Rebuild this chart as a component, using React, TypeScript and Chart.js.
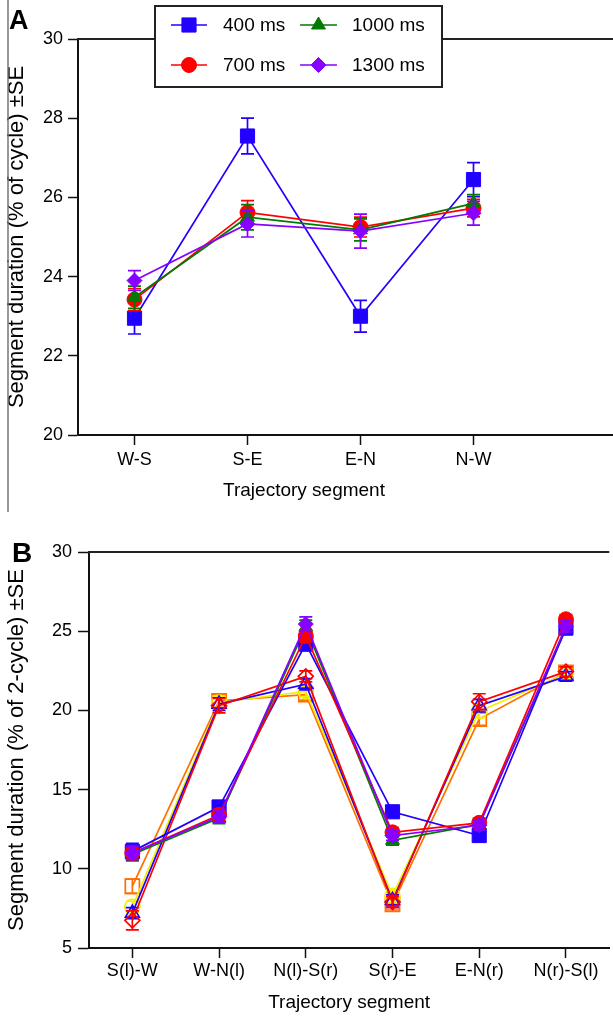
import React, { useEffect, useRef } from 'react';
import { Chart, registerables } from 'chart.js';

Chart.register(...registerables);

const FONT = "'Liberation Sans', Arial, Helvetica, sans-serif";

// ---------- Panel A data ----------
const segmentsA = ['W-S', 'S-E', 'E-N', 'N-W'];
const ms400A = [22.95, 27.55, 23.0, 26.45];
const ms400ErrA = [0.4, 0.45, 0.4, 0.43];
const ms700A = [23.42, 25.62, 25.25, 25.73];
const ms700ErrA = [0.28, 0.3, 0.25, 0.22];
const ms1000A = [23.48, 25.5, 25.18, 25.85];
const ms1000ErrA = [0.28, 0.32, 0.28, 0.22];
const ms1300A = [23.9, 25.33, 25.15, 25.6];
const ms1300ErrA = [0.25, 0.33, 0.43, 0.3];

// ---------- Panel B data ----------
const segmentsB = ['S(l)-W', 'W-N(l)', 'N(l)-S(r)', 'S(r)-E', 'E-N(r)', 'N(r)-S(l)'];
const blueSqB = [11.1, 13.9, 24.2, 13.6, 12.1, 25.2];
const blueSqErrB = [0.5, 0.4, 0.45, 0.3, 0.3, 0.4];
const redCircB = [11.0, 13.4, 24.7, 12.3, 12.9, 25.75];
const redCircErrB = [0.4, 0.35, 0.4, 0.3, 0.3, 0.3];
const greenTriB = [10.9, 13.2, 25.25, 11.8, 12.8, 25.15];
const greenTriErrB = [0.4, 0.35, 0.45, 0.3, 0.3, 0.35];
const purpleDiaB = [11.0, 13.3, 25.45, 12.1, 12.75, 25.3];
const purpleDiaErrB = [0.4, 0.35, 0.45, 0.3, 0.3, 0.35];
const orangeSqB = [8.9, 20.6, 21.0, 7.75, 19.45, 22.4];
const orangeSqErrB = [0.45, 0.4, 0.35, 0.35, 0.4, 0.3];
const yellowCircB = [7.6, 20.5, 21.2, 8.3, 19.95, 22.3];
const yellowCircErrB = [0.35, 0.4, 0.35, 0.35, 0.4, 0.3];
const blueTriB = [7.2, 20.4, 21.65, 8.0, 20.3, 22.15];
const blueTriErrB = [0.35, 0.4, 0.35, 0.35, 0.4, 0.3];
const redDiaB = [6.75, 20.3, 22.15, 7.9, 20.55, 22.45];
const redDiaErrB = [0.6, 0.45, 0.35, 0.35, 0.5, 0.3];

const BLUE = '#2200ff';
const RED = '#ff0000';
const GREEN = '#007a00';
const PURPLE = '#8800ff';
const ORANGE = '#ff7000';
const YELLOW = '#f0f000';

const RADIUS: Record<string, number> = { rect: 10, circle: 7.5, triangle: 8, rectRot: 7.5 };

function makeSeries(label: string, values: number[], errors: number[], color: string, style: string, filled: boolean, order: number, slot?: number[]) {
  return {
    label,
    data: values.map((v, i) => ({ x: i + 1, y: v })),
    errors,
    slot,
    order,
    borderColor: color,
    backgroundColor: color,
    borderWidth: 1.7,
    pointStyle: style,
    pointRadius: RADIUS[style],
    pointBorderColor: color,
    pointBackgroundColor: filled ? color : 'rgba(255,255,255,0)',
    pointBorderWidth: filled ? 1 : 1.7,
    tension: 0,
    clip: false,
    filledMarker: filled,
  };
}

function drawMarker(ctx: CanvasRenderingContext2D, style: string, x: number, y: number, r: number, color: string, filled: boolean) {
  ctx.beginPath();
  if (style === 'rect') {
    const s = r * Math.SQRT1_2;
    ctx.rect(x - s, y - s, 2 * s, 2 * s);
  } else if (style === 'circle') {
    ctx.arc(x, y, r, 0, Math.PI * 2);
  } else if (style === 'triangle') {
    let a = 0;
    ctx.moveTo(x + Math.sin(a) * r, y - Math.cos(a) * r);
    a += (2 * Math.PI) / 3;
    ctx.lineTo(x + Math.sin(a) * r, y - Math.cos(a) * r);
    a += (2 * Math.PI) / 3;
    ctx.lineTo(x + Math.sin(a) * r, y - Math.cos(a) * r);
  } else if (style === 'rectRot') {
    ctx.moveTo(x - r, y);
    ctx.lineTo(x, y - r);
    ctx.lineTo(x + r, y);
    ctx.lineTo(x, y + r);
  }
  ctx.closePath();
  if (filled) {
    ctx.fillStyle = color;
    ctx.fill();
  }
  ctx.strokeStyle = color;
  ctx.lineWidth = 1;
  ctx.stroke();
}

const errorBarPlugin = {
  id: 'errorBars',
  beforeDatasetDraw(chart: any, args: any) {
    const ds: any = chart.data.datasets[args.index];
    if (!ds.errors) return;
    const yScale = chart.scales.y;
    const ctx: CanvasRenderingContext2D = chart.ctx;
    const cap = 6.5;
    ctx.save();
    ctx.strokeStyle = ds.borderColor;
    ctx.lineWidth = 1.7;
    args.meta.data.forEach((pt: any, i: number) => {
      const v = ds.data[i].y;
      const e = ds.errors[i];
      const x = pt.x;
      const top = yScale.getPixelForValue(v + e);
      const bot = yScale.getPixelForValue(v - e);
      ctx.beginPath();
      ctx.moveTo(x, top);
      ctx.lineTo(x, bot);
      ctx.moveTo(x - cap, top);
      ctx.lineTo(x + cap, top);
      ctx.moveTo(x - cap, bot);
      ctx.lineTo(x + cap, bot);
      ctx.stroke();
    });
    ctx.restore();
  },
};

const framePlugin = {
  id: 'frame',
  afterDraw(chart: any, _args: any, opts: any) {
    const { ctx, chartArea } = chart;
    const right = Math.max(chartArea.right, opts.extendTo || 0);
    ctx.save();
    ctx.strokeStyle = '#222';
    ctx.lineWidth = 2;
    ctx.beginPath();
    ctx.moveTo(chartArea.left - 1, chartArea.top);
    ctx.lineTo(right, chartArea.top);
    ctx.stroke();
    if (right > chartArea.right) {
      const by = Math.round(chartArea.bottom);
      ctx.strokeStyle = '#111';
      ctx.beginPath();
      ctx.moveTo(chartArea.right - 1, by);
      ctx.lineTo(right, by);
      ctx.stroke();
    }

    if (opts.sideLine) {
      ctx.strokeStyle = '#777';
      ctx.lineWidth = 1.5;
      ctx.beginPath();
      ctx.moveTo(opts.sideLine.x, opts.sideLine.y0);
      ctx.lineTo(opts.sideLine.x, opts.sideLine.y1);
      ctx.stroke();
    }

    ctx.fillStyle = '#000';
    ctx.font = `bold ${opts.letterSize}px ${FONT}`;
    ctx.textAlign = 'left';
    ctx.textBaseline = 'alphabetic';
    ctx.fillText(opts.letter, opts.letterX, opts.letterY);

    const lg = opts.legend;
    if (lg) {
      ctx.fillStyle = '#fff';
      ctx.fillRect(lg.x, lg.y, lg.w, lg.h);
      ctx.strokeStyle = '#222';
      ctx.lineWidth = 2;
      ctx.strokeRect(lg.x, lg.y, lg.w, lg.h);
      chart.data.datasets.forEach((ds: any) => {
        if (!ds.slot) return;
        const col = lg.cols[ds.slot[0]];
        const ry = lg.rows[ds.slot[1]];
        ctx.strokeStyle = ds.borderColor;
        ctx.lineWidth = 1.7;
        ctx.beginPath();
        ctx.moveTo(col.x0, ry);
        ctx.lineTo(col.x1, ry);
        ctx.stroke();
        drawMarker(ctx, ds.pointStyle, (col.x0 + col.x1) / 2, ry, ds.pointRadius, ds.borderColor, ds.filledMarker);
        ctx.fillStyle = '#000';
        ctx.font = `19px ${FONT}`;
        ctx.textAlign = 'left';
        ctx.textBaseline = 'middle';
        ctx.fillText(ds.label, col.tx, ry + 1);
      });
    }
    ctx.restore();
  },
};

function axisConfig(cats: string[], xHeight: number, titleBottom: number, tickPad: number) {
  return {
    type: 'linear',
    min: 0.5,
    max: cats.length + 0.5,
    afterBuildTicks: (s: any) => {
      s.ticks = cats.map((_, i) => ({ value: i + 1 }));
    },
    afterFit: (s: any) => {
      s.height = xHeight;
    },
    ticks: {
      autoSkip: false,
      maxRotation: 0,
      padding: tickPad,
      color: '#000',
      font: { family: FONT, size: 18 },
      callback: (v: number) => cats[Math.round(v) - 1] ?? '',
    },
    grid: { drawOnChartArea: false, tickLength: 10, tickColor: '#111', tickWidth: 1.5 },
    border: { display: true, color: '#111', width: 2 },
    title: {
      display: true,
      text: 'Trajectory segment',
      color: '#000',
      font: { family: FONT, size: 19 },
      padding: { top: 0, bottom: titleBottom },
    },
  };
}

function yAxisConfig(min: number, max: number, step: number, width: number, tickLen: number, pad: number, title: string) {
  return {
    type: 'linear',
    min,
    max,
    afterFit: (s: any) => {
      s.width = width;
    },
    ticks: {
      stepSize: step,
      padding: pad,
      color: '#000',
      font: { family: FONT, size: 18 },
    },
    grid: { drawOnChartArea: false, tickLength: tickLen, tickColor: '#111', tickWidth: 1.5 },
    border: { display: true, color: '#111', width: 2 },
    title: {
      display: true,
      text: title,
      color: '#000',
      font: { family: FONT, size: 22 },
      padding: { top: 4, bottom: 0 },
    },
  };
}

function configA(): any {
  return {
    type: 'line',
    data: {
      datasets: [
        makeSeries('400 ms', ms400A, ms400ErrA, BLUE, 'rect', true, 3, [0, 0]),
        makeSeries('700 ms', ms700A, ms700ErrA, RED, 'circle', true, 2, [0, 1]),
        makeSeries('1000 ms', ms1000A, ms1000ErrA, GREEN, 'triangle', true, 1, [1, 0]),
        makeSeries('1300 ms', ms1300A, ms1300ErrA, PURPLE, 'rectRot', true, 0, [1, 1]),
      ],
    },
    options: {
      animation: false,
      responsive: false,
      devicePixelRatio: 1,
      layout: { padding: { top: 39, right: 83, left: 0, bottom: 0 } },
      plugins: {
        legend: { display: false },
        tooltip: { enabled: false },
        frame: {
          letter: 'A',
          letterSize: 27,
          letterX: 9,
          letterY: 29,
          extendTo: 613,
          sideLine: { x: 8, y0: 0, y1: 512 },
          legend: {
            x: 155,
            y: 6,
            w: 287,
            h: 81,
            cols: [
              { x0: 171, x1: 207, tx: 223 },
              { x0: 300, x1: 337, tx: 352 },
            ],
            rows: [25, 65],
          },
        },
      },
      scales: {
        x: axisConfig(segmentsA, 85, 18, 4),
        y: yAxisConfig(20, 30, 2, 78, 10, 5, 'Segment duration (% of cycle) ±SE'),
      },
    },
    plugins: [errorBarPlugin, framePlugin],
  };
}

function configB(): any {
  return {
    type: 'line',
    data: {
      datasets: [
        makeSeries('400 ms (open)', orangeSqB, orangeSqErrB, ORANGE, 'rect', false, 8),
        makeSeries('700 ms (open)', yellowCircB, yellowCircErrB, YELLOW, 'circle', false, 7),
        makeSeries('1000 ms (open)', blueTriB, blueTriErrB, BLUE, 'triangle', false, 6),
        makeSeries('1300 ms (open)', redDiaB, redDiaErrB, RED, 'rectRot', false, 5),
        makeSeries('1000 ms', greenTriB, greenTriErrB, GREEN, 'triangle', true, 4),
        makeSeries('400 ms', blueSqB, blueSqErrB, BLUE, 'rect', true, 3),
        makeSeries('700 ms', redCircB, redCircErrB, RED, 'circle', true, 2),
        makeSeries('1300 ms', purpleDiaB, purpleDiaErrB, PURPLE, 'rectRot', true, 1),
      ],
    },
    options: {
      animation: false,
      responsive: false,
      devicePixelRatio: 1,
      layout: { padding: { top: 32, right: 2, left: 0, bottom: 0 } },
      plugins: {
        legend: { display: false },
        tooltip: { enabled: false },
        frame: {
          letter: 'B',
          letterSize: 28,
          letterX: 12,
          letterY: 42,
        },
      },
      scales: {
        x: axisConfig(segmentsB, 71, 5, 2),
        y: yAxisConfig(5, 30, 5, 89, 11, 6, 'Segment duration (% of 2-cycle) ±SE'),
      },
    },
    plugins: [errorBarPlugin, framePlugin],
  };
}

function Panel({ make, top, width, height }: { make: () => any; top: number; width: number; height: number }) {
  const ref = useRef<HTMLCanvasElement>(null);
  useEffect(() => {
    const chart = new Chart(ref.current as HTMLCanvasElement, make());
    return () => chart.destroy();
  }, []);
  return (
    <div style={{ position: 'absolute', left: 0, top, width, height }}>
      <canvas ref={ref} width={width} height={height} style={{ display: 'block', width, height }} />
    </div>
  );
}

export default function App() {
  return (
    <div
      style={{
        position: 'absolute',
        left: 0,
        top: 0,
        width: 613,
        height: 1019,
        overflow: 'hidden',
        background: '#fff',
      }}
    >
      <Panel make={configA} top={0} width={613} height={520} />
      <Panel make={configB} top={520} width={621} height={499} />
    </div>
  );
}
